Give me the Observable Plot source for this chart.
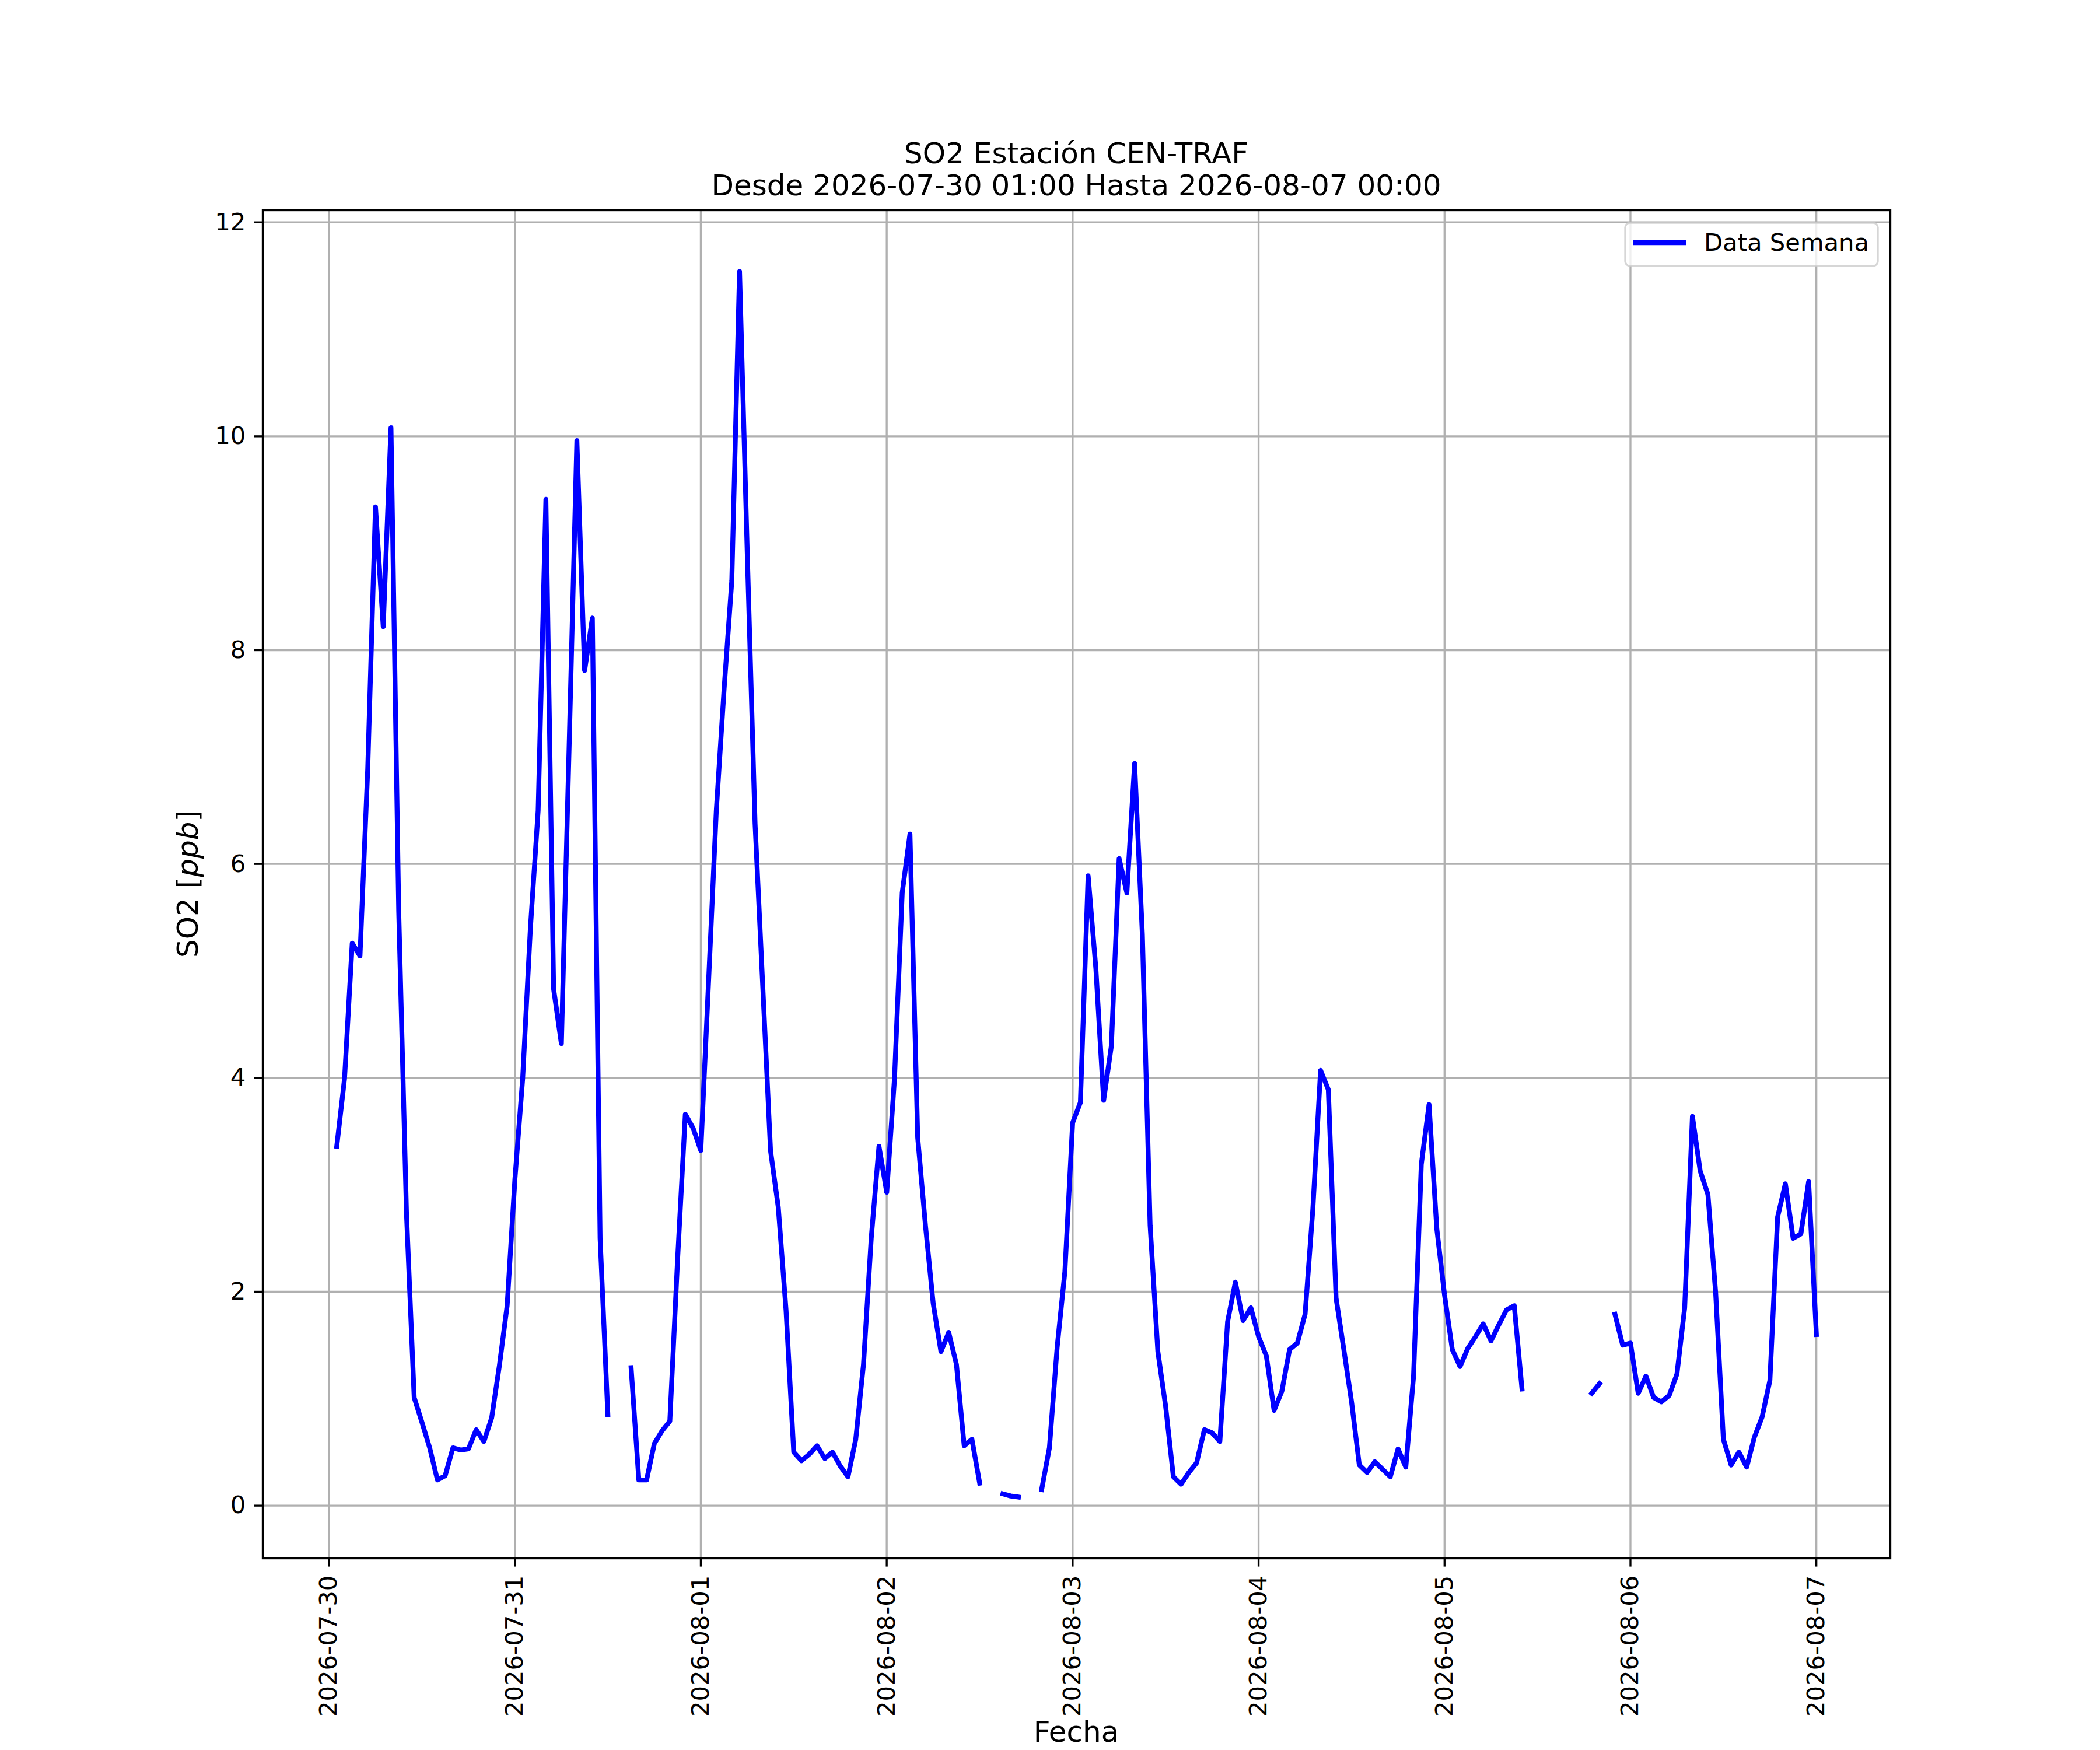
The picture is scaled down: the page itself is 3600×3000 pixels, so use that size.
<!DOCTYPE html>
<html>
<head>
<meta charset="utf-8">
<script src="https://cdn.jsdelivr.net/npm/d3@7"></script>
<script src="https://cdn.jsdelivr.net/npm/@observablehq/plot@0.6"></script>
<style>
  html, body { margin: 0; padding: 0; background: #ffffff; }
  #chart { width: 3600px; height: 3000px; overflow: hidden; }
  svg { display: block; }
</style>
</head>
<body>
<div id="chart"></div>
<script>
// ---- data -------------------------------------------------------------
const firstHour = "2026-07-30T01:00:00Z";   // first hourly sample
// hourly SO2 [ppb] from 2026-07-30 01:00 to 2026-08-07 00:00 (null = no data)
const so2Values = [
  3.36, 3.99, 5.26, 5.14, 6.89, 9.34, 8.22, 10.08, 5.56, 2.74, 1.01, 0.78,
  0.54, 0.24, 0.28, 0.54, 0.52, 0.53, 0.71, 0.60, 0.82, 1.31, 1.87, 3.05,
  3.99, 5.40, 6.50, 9.41, 4.83, 4.32, 7.10, 9.96, 7.81, 8.30, 2.50, 0.85,
  null, null, 1.29, 0.24, 0.24, 0.58, 0.70, 0.79, 2.30, 3.66, 3.53, 3.32,
  4.90, 6.50, 7.63, 8.65, 11.54, 8.90, 6.38, 4.85, 3.32, 2.79, 1.83, 0.50,
  0.42, 0.48, 0.56, 0.44, 0.50, 0.37, 0.27, 0.62, 1.32, 2.50, 3.36, 2.93,
  3.99, 5.73, 6.28, 3.44, 2.62, 1.89, 1.44, 1.62, 1.32, 0.56, 0.62, 0.21,
  null, null, 0.11, 0.09, 0.08, null, null, 0.15, 0.54, 1.48, 2.19, 3.58,
  3.77, 5.89, 5.02, 3.79, 4.30, 6.05, 5.73, 6.94, 5.34, 2.62, 1.44, 0.93,
  0.27, 0.20, 0.31, 0.40, 0.71, 0.68, 0.60, 1.72, 2.09, 1.73, 1.85, 1.58,
  1.40, 0.89, 1.07, 1.46, 1.52, 1.79, 2.77, 4.07, 3.89, 1.94, 1.46, 0.97,
  0.38, 0.31, 0.41, 0.34, 0.27, 0.53, 0.36, 1.21, 3.19, 3.75, 2.59, 1.97,
  1.46, 1.30, 1.47, 1.58, 1.70, 1.54, 1.69, 1.83, 1.87, 1.09, null, null,
  null, null, null, null, null, null, 1.05, 1.14, null, 1.79, 1.50, 1.52,
  1.05, 1.21, 1.01, 0.97, 1.03, 1.23, 1.85, 3.64, 3.13, 2.91, 1.99, 0.62,
  0.38, 0.50, 0.36, 0.64, 0.83, 1.17, 2.70, 3.01, 2.50, 2.54, 3.03, 1.60
];
const xTickLabels = ["2026-07-30", "2026-07-31", "2026-08-01", "2026-08-02",
  "2026-08-03", "2026-08-04", "2026-08-05", "2026-08-06", "2026-08-07"];
const yTickValues = [0, 2, 4, 6, 8, 10, 12];
const titleLines = ["SO2 Estación CEN-TRAF", "Desde 2026-07-30 01:00 Hasta 2026-08-07 00:00"];
const xLabel = "Fecha";
const seriesName = "Data Semana";

// ---- build table ------------------------------------------------------
const t0 = Date.parse(firstHour);
const table = so2Values.map((v, i) => ({date: new Date(t0 + i * 3600e3), value: v}));
const xTicks = xTickLabels.map(s => new Date(s + "T00:00:00Z"));

// matplotlib-like 5% autoscale margins
const [dMin, dMax] = d3.extent(table, d => d.date);
const dPad = (dMax - dMin) * 0.05;
const [vMin, vMax] = d3.extent(table.filter(d => d.value != null), d => d.value);
const vPad = (vMax - vMin) * 0.05;

const W = 3600, H = 3000;
const mL = 450, mR = 360, mT = 360, mB = 329;
const lw = 3.33;       // 0.8pt @300dpi
const tick = 14.6;     // 3.5pt @300dpi

const svg = Plot.plot({
  width: W, height: H,
  marginLeft: mL, marginRight: mR, marginTop: mT, marginBottom: mB,
  style: {fontFamily: "DejaVu Sans", fontSize: "41.7px", background: "#ffffff", color: "#000000"},
  x: {type: "utc", domain: [new Date(+dMin - dPad), new Date(+dMax + dPad)]},
  y: {domain: [vMin - vPad, vMax + vPad]},
  marks: [
    Plot.gridX(xTicks, {stroke: "#b0b0b0", strokeOpacity: 1, strokeWidth: lw}),
    Plot.gridY(yTickValues, {stroke: "#b0b0b0", strokeOpacity: 1, strokeWidth: lw}),
    Plot.lineY(table, {x: "date", y: "value", stroke: "#0000ff", strokeWidth: 8.33,
      strokeLinecap: "square", strokeLinejoin: "round", curve: "linear"}),
    Plot.frame({stroke: "#000000", strokeWidth: lw}),
    Plot.axisX(xTicks, {tickFormat: d3.utcFormat("%Y-%m-%d"), tickRotate: -90,
      tickSize: tick, tickPadding: tick, fontSize: 41.7, strokeWidth: lw, label: null}),
    Plot.axisY(yTickValues, {tickFormat: d3.format("d"), tickSize: tick, tickPadding: tick,
      fontSize: 41.7, strokeWidth: lw, label: null})
  ]
});

// ---- titles, axis labels, legend (non-data decorations) ---------------
const s = d3.select(svg);
const cx = mL + (W - mL - mR) / 2;
const cy = mT + (H - mT - mB) / 2;

const title = s.append("text")
  .attr("text-anchor", "middle")
  .attr("font-family", "DejaVu Sans")
  .attr("font-size", 50)
  .attr("fill", "#000");
title.append("tspan").attr("x", cx).attr("y", 280).text(titleLines[0]);
title.append("tspan").attr("x", cx).attr("y", 335).text(titleLines[1]);

s.append("text")
  .attr("x", cx).attr("y", 2986)
  .attr("text-anchor", "middle")
  .attr("font-family", "DejaVu Sans")
  .attr("font-size", 50)
  .attr("fill", "#000")
  .text(xLabel);

const yl = s.append("text")
  .attr("transform", `translate(339,${cy}) rotate(-90)`)
  .attr("text-anchor", "middle")
  .attr("font-family", "DejaVu Sans")
  .attr("font-size", 50)
  .attr("fill", "#000");
yl.append("tspan").text("SO2 [");
yl.append("tspan").attr("font-style", "italic").text("ppb");
yl.append("tspan").text("]");

const lg = s.append("g");
lg.append("rect")
  .attr("x", 2786).attr("y", 382).attr("width", 433).attr("height", 74)
  .attr("rx", 8).attr("ry", 8)
  .attr("fill", "#ffffff").attr("fill-opacity", 0.8)
  .attr("stroke", "#cccccc").attr("stroke-opacity", 0.8).attr("stroke-width", lw);
lg.append("line")
  .attr("x1", 2799).attr("x2", 2890).attr("y1", 416).attr("y2", 416)
  .attr("stroke", "#0000ff").attr("stroke-width", 8.33);
lg.append("text")
  .attr("x", 2921).attr("y", 430)
  .attr("text-anchor", "start")
  .attr("font-family", "DejaVu Sans")
  .attr("font-size", 41.7)
  .attr("fill", "#000")
  .text(seriesName);

document.getElementById("chart").appendChild(svg);
</script>
</body>
</html>
